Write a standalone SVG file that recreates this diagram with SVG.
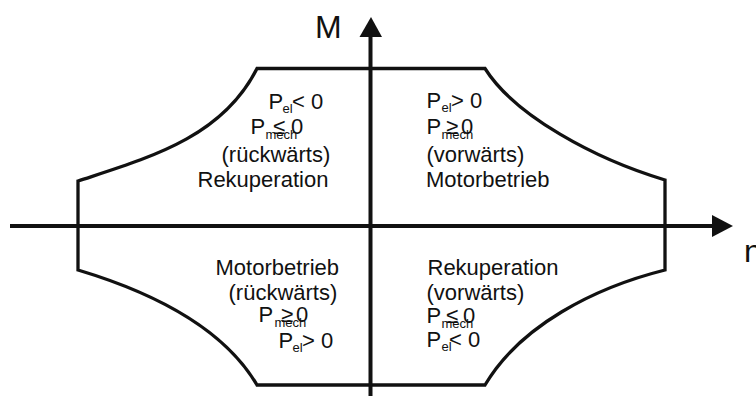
<svg xmlns="http://www.w3.org/2000/svg" width="756" height="399" viewBox="0 0 756 399">
<style>
text{font-family:"Liberation Sans",Arial,sans-serif;fill:#111;}
.t{font-size:22px;}
.s{font-size:13px;}
.ax{font-size:32px;}
.shape{fill:none;stroke:#111;stroke-width:3.3;stroke-linejoin:miter;}
.axis{stroke:#111;stroke-width:4;fill:none;}
.head{fill:#111;}
</style>
<rect width="756" height="399" fill="#fff"/>
<g id="envelope">
<path class="shape" d="M257,68.5 L485,68.5 C515,116 595,159 665,180 L665,270 C595,287.5 520,325.5 485,385 L257,385 C222,325.5 148,291 78,270 L78,181 C148,158 222,138 257,68.5 Z"/>
</g>
<g id="connectors">
<line class="axis" x1="370.5" y1="396" x2="370.5" y2="36"/>
<polygon class="head" points="359.5,37 382,37 371,17"/>
<line class="axis" x1="10" y1="226" x2="713" y2="226"/>
<polygon class="head" points="712,215 733,226 712,237"/>
</g>
<g id="axis-M"><text class="ax" x="315" y="38">M</text></g>
<g id="axis-n"><text class="ax" x="744" y="262">n</text></g>
<g id="q2">
<text class="t" x="268.5" y="109">P</text><text class="s" x="282.5" y="113">el</text><text class="t" x="292" y="109">&lt; 0</text>
<text class="t" x="250.5" y="134">P</text><text class="s" x="265.5" y="139">mech</text><text class="t" x="273" y="134">≤</text><text class="t" x="291" y="134">0</text>
<text class="t" x="221.5" y="162">(rückwärts)</text>
<text class="t" x="197.5" y="187">Rekuperation</text>
</g>
<g id="q1">
<text class="t" x="426.5" y="108">P</text><text class="s" x="441.5" y="112">el</text><text class="t" x="451" y="108">&gt; 0</text>
<text class="t" x="426.5" y="134">P</text><text class="s" x="441.5" y="139">mech</text><text class="t" x="446" y="134">≥</text><text class="t" x="461" y="134">0</text>
<text class="t" x="426.5" y="162">(vorwärts)</text>
<text class="t" x="426" y="187">Motorbetrieb</text>
</g>
<g id="q3">
<text class="t" x="215.5" y="275">Motorbetrieb</text>
<text class="t" x="228.5" y="300">(rückwärts)</text>
<text class="t" x="258.5" y="322">P</text><text class="s" x="274.5" y="327">mech</text><text class="t" x="281" y="322">≥</text><text class="t" x="296" y="322">0</text>
<text class="t" x="278.5" y="348">P</text><text class="s" x="292.5" y="352">el</text><text class="t" x="302" y="348">&gt; 0</text>
</g>
<g id="q4">
<text class="t" x="427.5" y="275">Rekuperation</text>
<text class="t" x="426.5" y="300">(vorwärts)</text>
<text class="t" x="426.5" y="323">P</text><text class="s" x="441.5" y="328">mech</text><text class="t" x="446" y="323">≤</text><text class="t" x="463" y="323">0</text>
<text class="t" x="426.5" y="347">P</text><text class="s" x="441.5" y="351">el</text><text class="t" x="449" y="347">&lt; 0</text>
</g>
</svg>
